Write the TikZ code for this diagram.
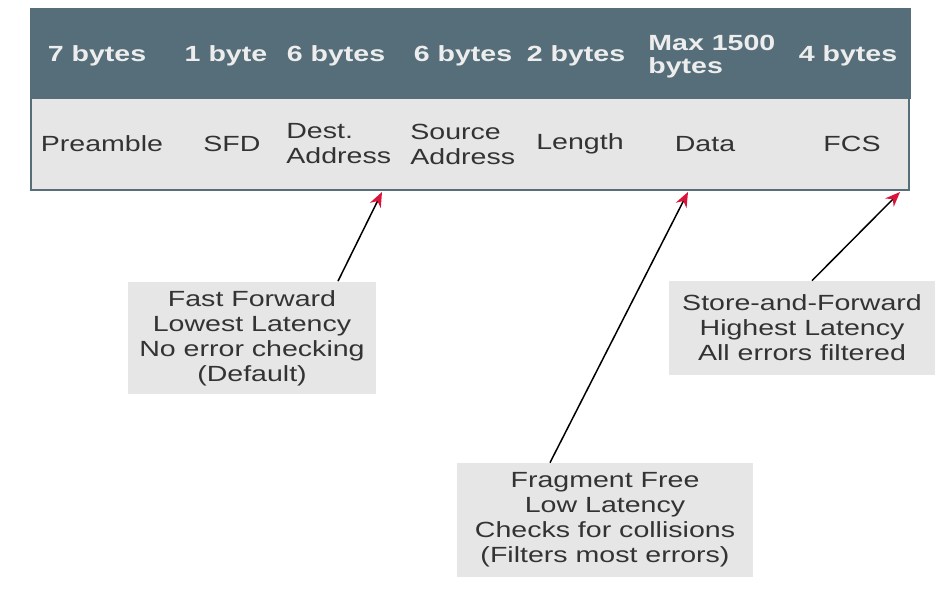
\documentclass[tikz,border=0pt]{standalone}
\usepackage{fontspec}
\setmainfont{Liberation Sans}[FakeStretch=1.3]
\usepackage{xcolor}
\usetikzlibrary{calc,arrows.meta}
\definecolor{hdr}{HTML}{566E79}
\definecolor{hdrtxt}{HTML}{EDEDED}
\definecolor{bodyfill}{HTML}{E6E6E6}
\definecolor{txt}{HTML}{333333}
\definecolor{tipred}{HTML}{D8143A}
\tikzset{
  hdrlabel/.style={text=hdrtxt, font=\fontsize{12.5}{13}\selectfont\bfseries, inner sep=0pt},
  fieldlabel/.style={text=txt, font=\fontsize{12.5}{14.2}\selectfont, inner sep=0pt},
  callout/.style={fill=bodyfill, text=txt, align=center, inner sep=0pt, font=\fontsize{12.5}{14.2}\selectfont},
  pointer/.style={line width=.03cm, -{Stealth[color=tipred, length=.3cm, width=.24cm]}}
}
\begin{document}
\begin{tikzpicture}[x=0.02cm,y=-0.02cm]
\useasboundingbox (0,0) rectangle (943,597);

% frame
\filldraw[fill=hdr, draw=hdr] (30,8) rectangle (910,98);
\filldraw[line width=.04cm, fill=bodyfill, draw=hdr] (31,98) rectangle (909,190);

% sizes
\node[hdrlabel] (s1) at (97,56) {7 bytes};
\node[hdrlabel] (s2) at (226,56) {1 byte};
\node[hdrlabel] (s3) at (336,56) {6 bytes};
\node[hdrlabel] (s4) at (463,56) {6 bytes};
\node[hdrlabel] (s5) at (576,56) {2 bytes};
\node[hdrlabel, align=left, anchor=west] (s6) at (648,57) {Max 1500\\bytes};
\node[hdrlabel] (s7) at (848,56) {4 bytes};

% fields
\node[fieldlabel] (preamble) at (102,144) {Preamble};
\node[fieldlabel] (sfd) at (232,144) {SFD};
\node[fieldlabel, align=left, anchor=west] (dest) at (286,144) {Dest.\\Address};
\node[fieldlabel, align=left, anchor=west] (src) at (410,144) {Source\\Address};
\node[fieldlabel] (length) at (580,144) {Length};
\node[fieldlabel] (data) at (705,144) {Data};
\node[fieldlabel] (fcs) at (852,144) {FCS};

% where the pointers end
\coordinate (ptdest) at (382,192);
\coordinate (ptdata) at (688,192);
\coordinate (ptfcs) at (900,192);

% switching modes
\node[callout, minimum width=4.96cm, minimum height=2.26cm] (fastfwd) at (252,338) {Fast Forward\\Lowest Latency\\No error checking\\(Default)};
\node[callout, minimum width=5.92cm, minimum height=2.28cm] (fragfree) at (605,520) {Fragment Free\\Low Latency\\Checks for collisions\\(Filters most errors)};
\node[callout, minimum width=5.32cm, minimum height=1.88cm] (storefwd) at (802,328) {Store-and-Forward\\Highest Latency\\All errors filtered};

\draw[pointer] ($(fastfwd.north)+(86,0)$) -- (ptdest);
\draw[pointer] ($(fragfree.north)+(-55,0)$) -- (ptdata);
\draw[pointer] ($(storefwd.north)+(10,0)$) -- (ptfcs);

\end{tikzpicture}
\end{document}
